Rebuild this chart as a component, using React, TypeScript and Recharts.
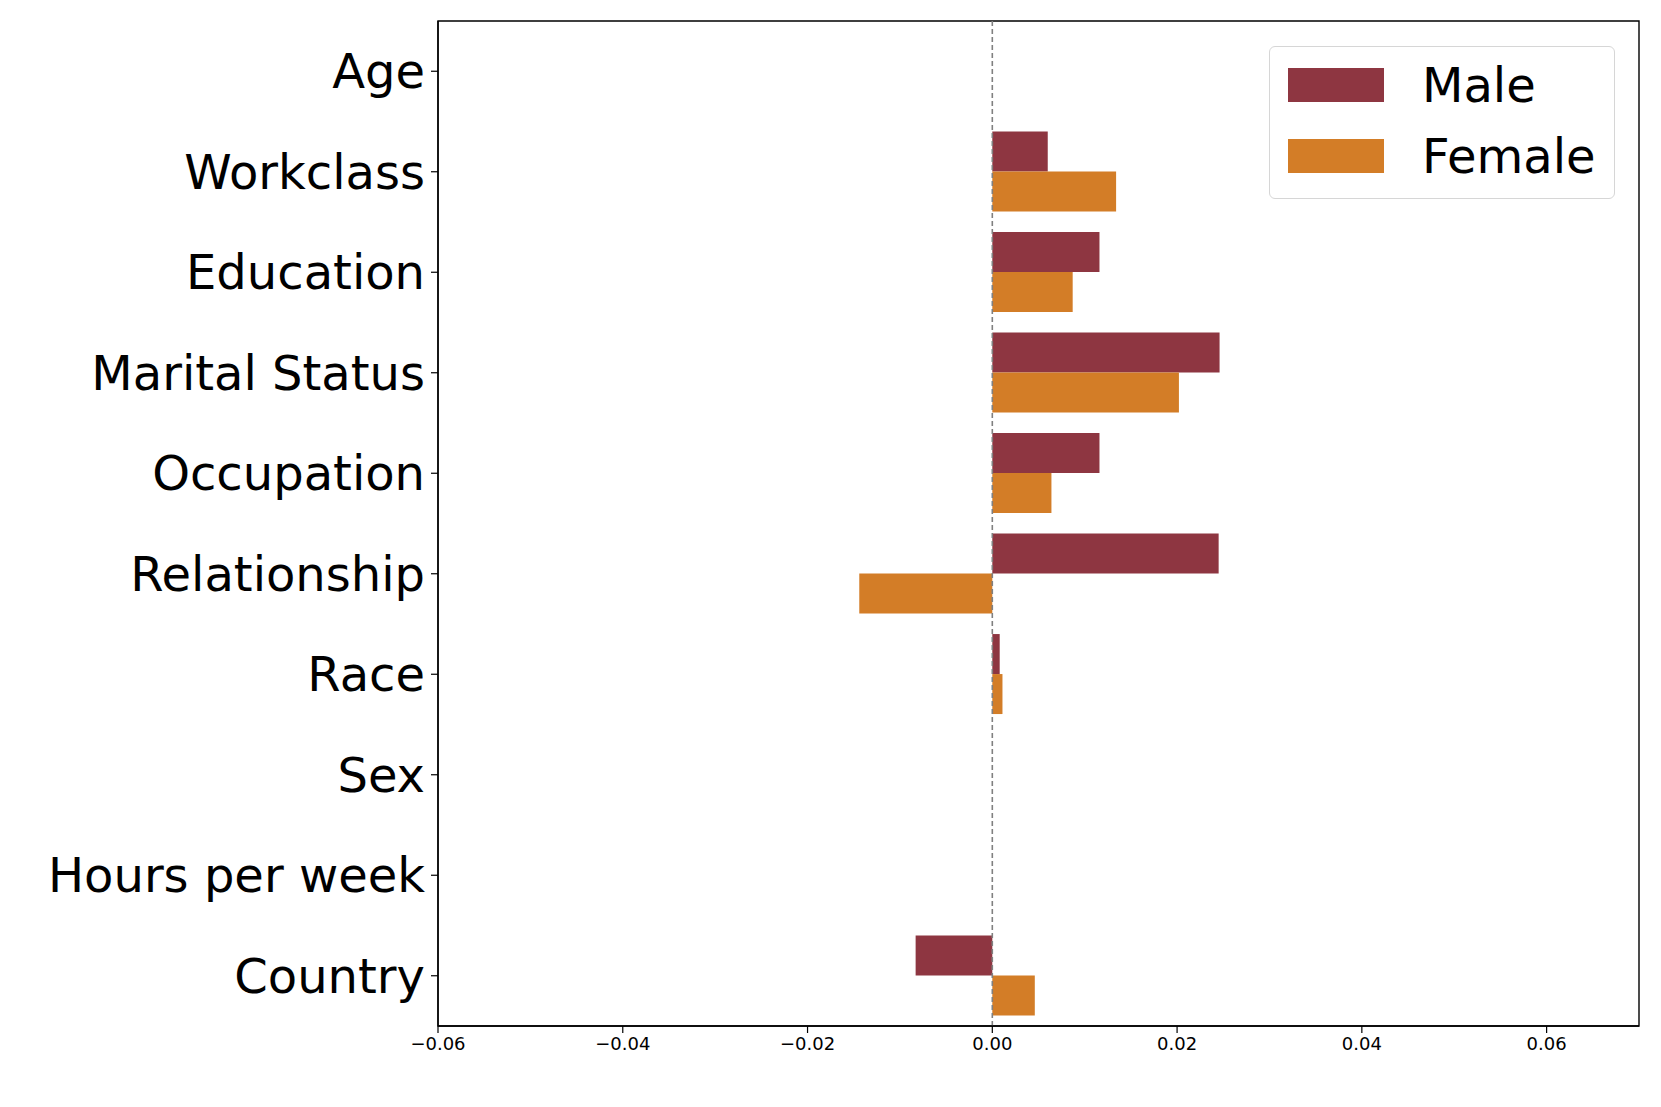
import { BarChart, Bar, XAxis, YAxis, ReferenceLine, ReferenceArea } from 'recharts';

const features = ['Age', 'Workclass', 'Education', 'Marital Status', 'Occupation', 'Relationship', 'Race', 'Sex', 'Hours per week', 'Country'];
const maleVals = [0, 0.006, 0.0116, 0.0246, 0.0116, 0.0245, 0.0008, 0, 0, -0.0083];
const femaleVals = [0, 0.0134, 0.0087, 0.0202, 0.0064, -0.0144, 0.0011, 0, 0, 0.0046];
const xTicks = [-0.06, -0.04, -0.02, 0, 0.02, 0.04, 0.06];

const MALE = '#8e3641';
const FEMALE = '#d37d27';
const FONT = '"DejaVu Sans", sans-serif';

const data = features.map((f, i) => ({ name: f, Male: maleVals[i], Female: femaleVals[i] }));

const fmt = (v: number) => (v < 0 ? '\u2212' : '') + Math.abs(v).toFixed(2);

function LegendBox() {
  const items = [{ label: 'Male', color: MALE }, { label: 'Female', color: FEMALE }];
  return (
    <div style={{
      position: 'absolute', left: 1261, top: 38,
      width: 346, height: 153, boxSizing: 'border-box', border: '1.5px solid #d6d6d6', borderRadius: 6,
      background: '#fff', padding: '20px 0 0 18px', fontFamily: FONT,
    }}>
      {items.map((it) => (
        <div key={it.label} style={{ display: 'flex', alignItems: 'center', height: 71 }}>
          <div style={{ width: 96, height: 34, background: it.color, marginTop: -36 }} />
          <span style={{ fontSize: 48, marginLeft: 38, marginTop: -36, color: '#000', lineHeight: '48px' }}>{it.label}</span>
        </div>
      ))}
    </div>
  );
}

export default function App() {
  return (
    <div style={{ position: 'relative', width: 1645, height: 1090, background: '#fff' }}>
      <BarChart
        width={1645}
        height={1090}
        data={data}
        layout="vertical"
        margin={{ top: 13, right: 14, bottom: 32, left: 0 }}
        barCategoryGap="10%"
        barGap={0}
      >
        <XAxis
          type="number"
          domain={[-0.06, 0.07]}
          ticks={xTicks}
          tickFormatter={fmt}
          allowDataOverflow
          height={40}
          tickSize={7}
          tickMargin={4}
          axisLine={{ stroke: '#000', strokeWidth: 1.4 }}
          tickLine={{ stroke: '#000', strokeWidth: 1.2 }}
          tick={{ fill: '#000', fontSize: 18, fontFamily: FONT }}
        />
        <YAxis
          type="category"
          dataKey="name"
          width={430}
          interval={0}
          tickSize={7}
          tickMargin={6}
          axisLine={{ stroke: '#000', strokeWidth: 1.4 }}
          tickLine={{ stroke: '#000', strokeWidth: 1.2 }}
          tick={{ fill: '#000', fontSize: 48, fontFamily: FONT }}
        />
        <ReferenceArea x1={-0.06} x2={0.07} fill="none" stroke="#000" strokeWidth={1.4} fillOpacity={0} ifOverflow="visible" />
        <Bar dataKey="Male" fill={MALE} isAnimationActive={false} />
        <Bar dataKey="Female" fill={FEMALE} isAnimationActive={false} />
        <ReferenceLine x={0} stroke="#808080" strokeWidth={1.6} strokeDasharray="5 3" />
      </BarChart>
      <LegendBox />
    </div>
  );
}
